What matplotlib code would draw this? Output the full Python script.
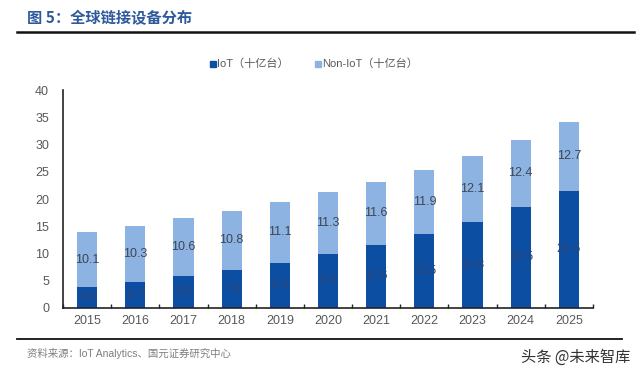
import matplotlib
matplotlib.use("Agg")
import matplotlib.pyplot as plt
import numpy as np
from matplotlib.lines import Line2D
from matplotlib.patches import Rectangle

plt.rcParams['font.family'] = ['Liberation Sans', 'Noto Sans CJK SC', 'DejaVu Sans']

years = ['2015', '2016', '2017', '2018', '2019', '2020', '2021', '2022', '2023', '2024', '2025']
iot = [3.8, 4.7, 5.9, 7.0, 8.3, 9.9, 11.6, 13.5, 15.8, 18.5, 21.5]
non_iot = [10.1, 10.3, 10.6, 10.8, 11.1, 11.3, 11.6, 11.9, 12.1, 12.4, 12.7]
y_ticks = [0, 5, 10, 15, 20, 25, 30, 35, 40]

c_iot = '#0b4ea2'
c_non = '#8db3e2'

W, H = 640, 371
fig = plt.figure(figsize=(6.4, 3.71), dpi=100)
ax = fig.add_axes([63 / W, 1 - 307.7 / H, (593 - 63) / W, (307.7 - 90.3) / H])

x = np.arange(len(years))
bw = 0.42
ax.bar(x, iot, width=bw, color=c_iot, zorder=2)
ax.bar(x, non_iot, width=bw, bottom=iot, color=c_non, zorder=2)

for xi, a, b in zip(x, iot, non_iot):
    ax.text(xi, a / 2, f'{a:.1f}', ha='center', va='center', fontsize=9, color='#2d4677', zorder=3)
    ax.text(xi, a + b / 2, f'{b:.1f}', ha='center', va='center', fontsize=9, color='#3d4654', zorder=3)

ax.set_xlim(-0.5, len(years) - 0.5)
ax.set_ylim(0, 40)
ax.set_yticks(y_ticks)
ax.set_yticklabels([str(v) for v in y_ticks])
ax.set_xticks(x)
ax.set_xticklabels(years)
ax.set_xticks(np.arange(len(years) + 1) - 0.5, minor=True)
ax.tick_params(axis='x', which='major', length=0, labelsize=9, labelcolor='#595959', pad=5)
ax.tick_params(axis='x', which='minor', length=3, direction='in', color='#222222', width=1)
ax.tick_params(axis='y', length=0, labelsize=9, labelcolor='#595959', pad=10)
for s in ['top', 'right']:
    ax.spines[s].set_visible(False)
for s in ['left', 'bottom']:
    ax.spines[s].set_color('#222222')
    ax.spines[s].set_linewidth(1.2)

# Title and rules
fig.text(27 / W, 1 - 18 / H, '图 5：全球链接设备分布', fontsize=11, fontweight='bold',
         color='#2e5a9c', ha='left', va='center', family=['Noto Sans CJK SC', 'DejaVu Sans'])
fig.add_artist(Line2D([17 / W, 634 / W], [1 - 32 / H, 1 - 32 / H], color='#111111', linewidth=1.8))
fig.add_artist(Line2D([17 / W, 622 / W], [1 - 339 / H, 1 - 339 / H], color='#111111', linewidth=1.3))

# Legend
ly = 1 - 64 / H
sq = 6
fig.add_artist(Rectangle((210 / W, ly - sq / 2 / H), sq / W, sq / H, color=c_iot, transform=fig.transFigure))
fig.text(217 / W, ly, 'IoT（十亿台）', fontsize=8, color='#595959', ha='left', va='center',
         family=['Liberation Sans', 'Noto Sans CJK SC'])
fig.add_artist(Rectangle((315 / W, ly - sq / 2 / H), sq / W, sq / H, color=c_non, transform=fig.transFigure))
fig.text(322 / W, ly, 'Non-IoT（十亿台）', fontsize=8, color='#595959', ha='left', va='center',
         family=['Liberation Sans', 'Noto Sans CJK SC'])

# Footer
fig.text(27 / W, 1 - 353 / H, '资料来源：IoT Analytics、国元证券研究中心', fontsize=7.5, color='#7f7f7f',
         ha='left', va='center', family=['Liberation Sans', 'Noto Sans CJK SC'])
fig.text(630 / W, 1 - 357 / H, '头条 @未来智库', fontsize=11, color='#333333',
         ha='right', va='center', family=['Noto Sans CJK SC', 'DejaVu Sans'])

fig.savefig('out.png', dpi=100)
